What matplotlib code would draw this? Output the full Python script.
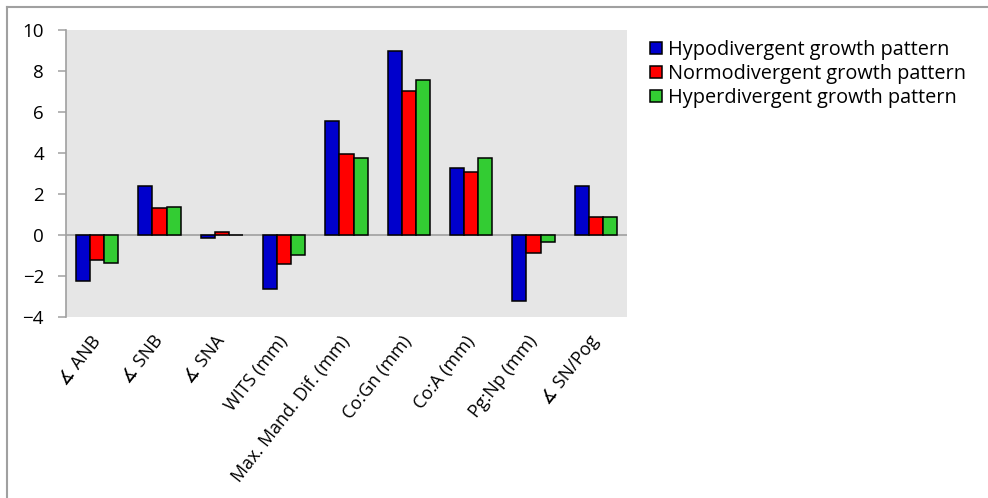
import matplotlib.pyplot as plt
import numpy as np
from matplotlib.lines import Line2D

categories = ['∡ ANB', '∡ SNB', '∡ SNA', 'WITS (mm)', 'Max. Mand. Dif. (mm)',
              'Co:Gn (mm)', 'Co:A (mm)', 'Pg:Np (mm)', '∡ SN/Pog']
hypo = [-2.22, 2.39, -0.15, -2.65, 5.58, 8.99, 3.28, -3.20, 2.39]
normo = [-1.22, 1.30, 0.13, -1.43, 3.94, 7.02, 3.09, -0.89, 0.89]
hyper = [-1.38, 1.35, 0.02, -0.96, 3.76, 7.55, 3.76, -0.33, 0.86]
series = ['Hypodivergent growth pattern', 'Normodivergent growth pattern',
          'Hyperdivergent growth pattern']
colors = ['#0000CC', '#FF0000', '#33CC33']

plt.rcParams['font.family'] = ['Open Sans', 'DejaVu Sans']

fig = plt.figure(figsize=(9.88, 4.98), dpi=100)
ax = fig.add_axes([66 / 988, 1 - 317 / 498, 561 / 988, 287 / 498])
ax.set_facecolor('#E6E6E6')

x = np.arange(len(categories))
w = 0.225
for i, (vals, name) in enumerate(zip([hypo, normo, hyper], series)):
    ax.bar(x + (i - 1) * w, vals, w, color=colors[i], edgecolor='black',
           linewidth=1.1, label=name, zorder=3)

ax.axhline(0, color='#A0A0A0', linewidth=1.2, zorder=2)
ax.set_xlim(-0.5, len(categories) - 0.5)
ax.set_ylim(-4, 10)
ax.set_yticks(range(-4, 11, 2))
ax.tick_params(axis='y', labelsize=13.5, length=5.8, width=1.1,
               color='#A0A0A0', pad=10)
ax.tick_params(axis='x', length=0, pad=15)
ax.set_xticks(x)
ax.set_xticklabels(categories, rotation=52, ha='right', va='center',
                   rotation_mode='anchor', fontsize=13)
for s in ['top', 'right', 'bottom']:
    ax.spines[s].set_visible(False)
ax.spines['left'].set_color('#A0A0A0')
ax.spines['left'].set_linewidth(1.2)

leg = ax.legend(loc='upper left', bbox_to_anchor=(650 / 988, 1 - 40 / 498),
                bbox_transform=fig.transFigure, frameon=False, fontsize=14.3,
                handlelength=0.6, handleheight=0.6, handletextpad=0.3,
                labelspacing=0.2, borderpad=0, borderaxespad=0)

fig.add_artist(Line2D([7 / 988, 1], [1 - 7 / 498, 1 - 7 / 498], color='#A0A0A0', lw=1.5))
fig.add_artist(Line2D([7 / 988, 7 / 988], [0, 1 - 7 / 498], color='#A0A0A0', lw=1.5))

fig.savefig('out.png', dpi=100)
